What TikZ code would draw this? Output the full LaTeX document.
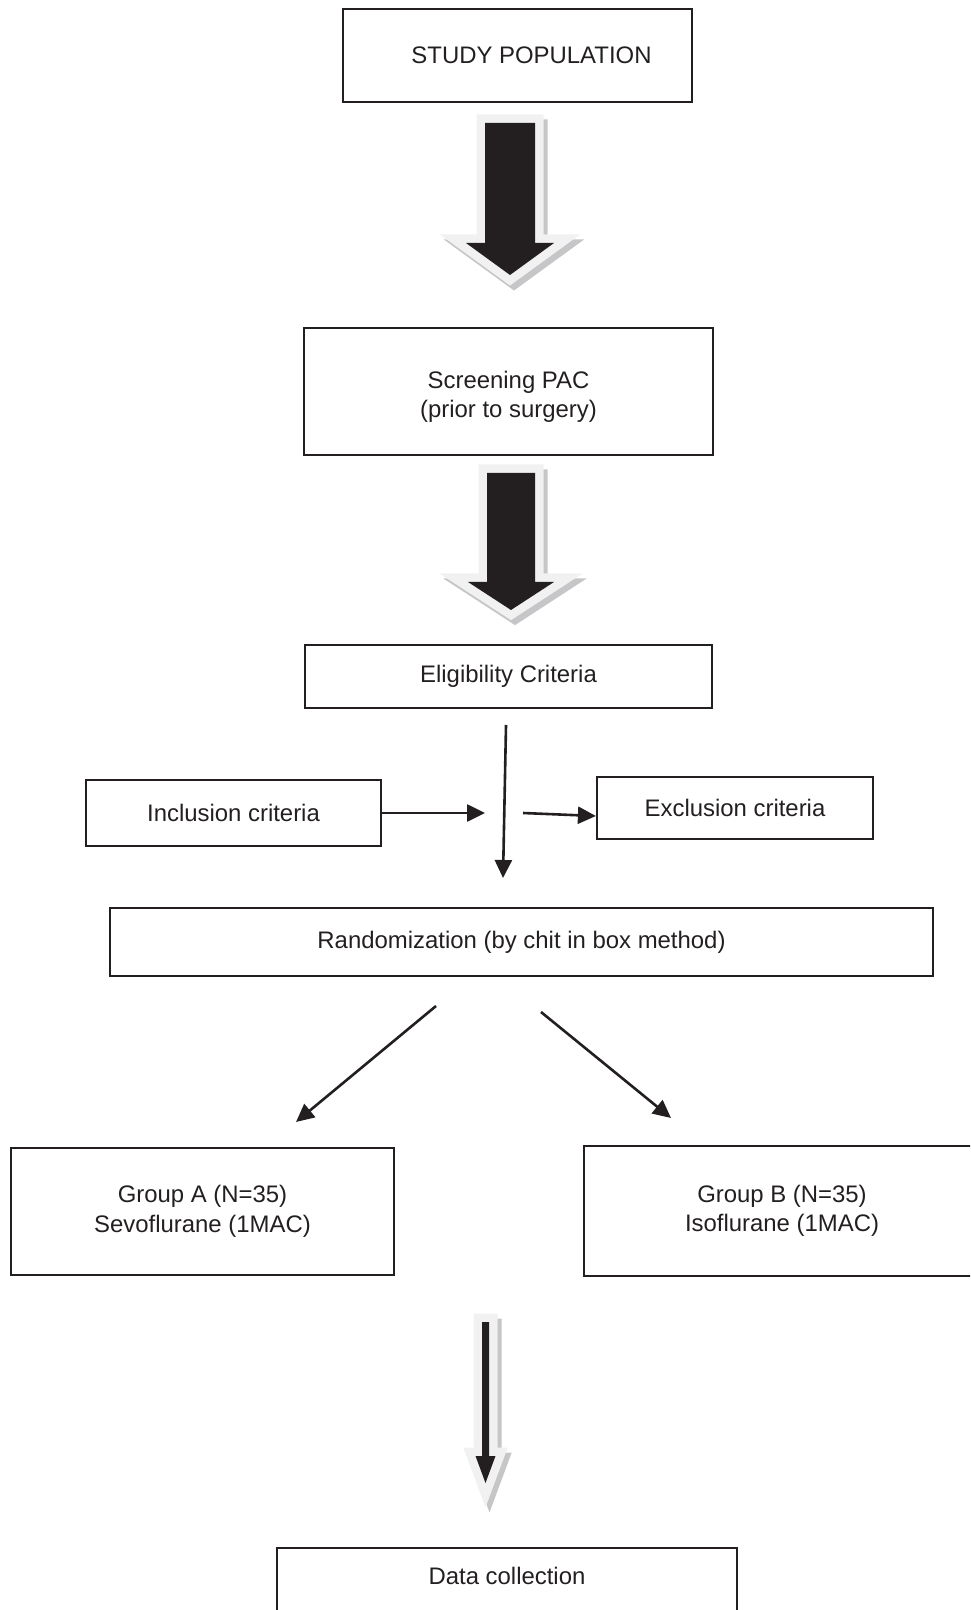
\documentclass[tikz,border=0pt]{standalone}
\usepackage{xcolor}
\usepackage{fontspec}
\setmainfont{Liberation Sans}
\usepackage{tikz}
\usetikzlibrary{arrows.meta}

\definecolor{ink}{HTML}{231F20}
\definecolor{halo}{HTML}{F1F1F2}
\definecolor{shade}{HTML}{C6C6C8}

% block arrow: x, top, head, tip, shaft half width, head half width
\newcommand{\fatarrow}[6]{%
	\path[fat] (#1-#5,#2) -- (#1+#5,#2) -- (#1+#5,#3) -- (#1+#6,#3) -- (#1,#4) -- (#1-#6,#3) -- (#1-#5,#3) -- cycle;
}

\begin{document}
\begin{tikzpicture}[
		x=0.01cm, y=-0.01cm,
		font=\fontsize{6.8pt}{8.4pt}\selectfont,
		stage/.style={rectangle, draw=ink, line width=0.02cm, text=ink, align=center, inner sep=0pt},
		arrow/.style={-{Triangle[length=0.18cm, width=0.17cm]}, draw=ink, line width=0.026cm},
		fat/.style={fill=ink,
			preaction={fill=shade, draw=shade, line width=0.17cm, transform canvas={shift={(0.04cm,-0.05cm)}}},
			preaction={fill=halo, draw=halo, line width=0.17cm}}
	]
		\clip (0,0) rectangle (970,1610);
		
		% Boxes
		\node[stage, minimum width=3.49cm, minimum height=0.93cm] (study) at (517.5,55.5) {\hspace{0.28cm}STUDY POPULATION};
		\node[stage, minimum width=4.09cm, minimum height=1.27cm] (screen) at (508.5,391.5) {\rule{0pt}{0.28cm}Screening PAC\\(prior to surgery)};
		\node[stage, minimum width=4.07cm, minimum height=0.63cm] (elig) at (508.5,676.5) {Eligibility Criteria};
		\node[stage, minimum width=2.95cm, minimum height=0.66cm] (incl) at (233.5,813) {Inclusion criteria};
		\node[stage, minimum width=2.76cm, minimum height=0.62cm] (excl) at (735,808) {Exclusion criteria};
		\node[stage, minimum width=8.23cm, minimum height=0.68cm] (rand) at (521.5,942) {Randomization (by chit in box method)};
		\node[stage, minimum width=3.83cm, minimum height=1.27cm] (groupA) at (202.5,1211.5) {Group A (N=35)\\Sevoflurane (1MAC)};
		\node[stage, minimum width=3.96cm, minimum height=1.30cm] (groupB) at (782,1211) {Group B (N=35)\\Isoflurane (1MAC)};
		\node[stage, minimum width=4.60cm, text height=0.365cm, text depth=0.5cm, anchor=north] (data) at (507,1547) {Data collection};
		
		% Block arrows
		\fatarrow{510}{123}{243}{275}{25}{44}
		\fatarrow{511}{473}{582}{610}{24}{43}
		\fatarrow{485.5}{1322}{1456}{1483}{3.5}{10}
		
		% Free ends
		\coordinate (split) at (506,725);
		\coordinate (merge) at (503,878);
		\coordinate (inclend) at (485,813);
		\coordinate (exclstart) at (523,813);
		\coordinate (randL) at (436,1006);
		\coordinate (randR) at (541,1012);
		\coordinate (toA) at (296,1122);
		\coordinate (toB) at (671,1118);
		
		% Arrows
		\draw[arrow] (split) -- (merge);
		\draw[arrow] (incl.east) -- (inclend);
		\draw[arrow] (exclstart) -- ([yshift=-0.08cm]excl.west);
		\draw[arrow] (randL) -- (toA);
		\draw[arrow] (randR) -- (toB);
	\end{tikzpicture}
\end{document}
